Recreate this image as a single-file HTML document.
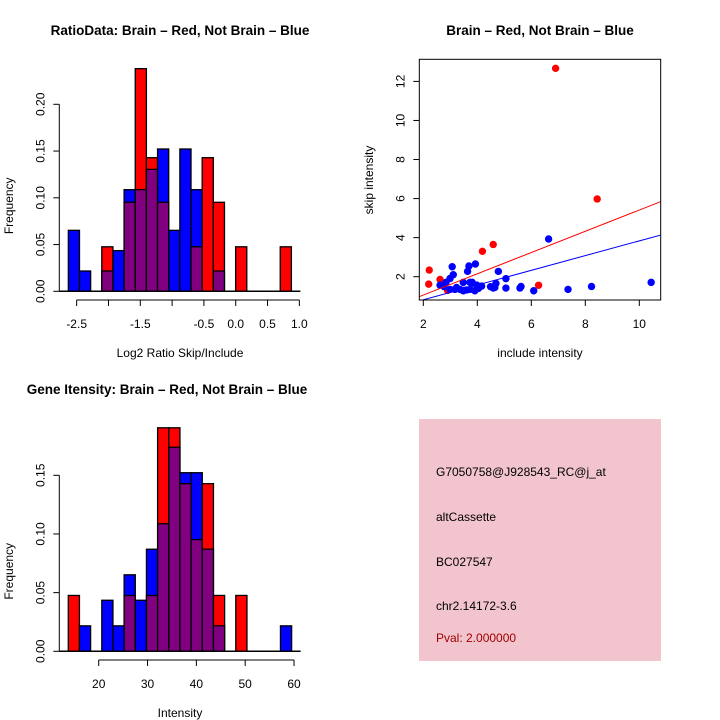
<!DOCTYPE html>
<html><head><meta charset="utf-8"><style>
body{margin:0;background:#fff}
svg{display:block;font-family:"Liberation Sans",sans-serif}
</style></head><body>
<svg id="c" width="720" height="720"></svg>
<script>
// Panel 1: log2 ratio histogram (frequencies per bin)
const ratioRed=[0,0,0,0.0476,0,0.0952,0.2381,0.1429,0.0952,0,0,0.0476,0.1429,0.0952,0,0.0476,0,0,0,0.0476];
const ratioBlue=[0.0652,0.0217,0,0.0217,0.0435,0.1087,0.1087,0.1304,0.1522,0.0652,0.1522,0.1087,0,0.0217,0,0,0,0,0,0];
const ratioBreakStart=-2.631, ratioBreakWidth=0.1753;
const ratioXTicks=[-2.5,-2,-1.5,-1,-0.5,0,0.5,1];
const ratioXLabels=["-2.5","","-1.5","","-0.5","0.0","0.5","1.0"];
const ratioYTicks=[0,0.05,0.1,0.15,0.2];
const ratioYLabels=["0.00","0.05","0.10","0.15","0.20"];
// Panel 2: scatter
const redX=[6.90,8.44,4.59,4.19,2.22,2.20,2.62,6.27,2.9,3.5,4.1];
const redY=[12.67,5.98,3.65,3.30,2.34,1.62,1.86,1.56,1.3,1.3,1.5];
const blueX=[6.64,10.44,8.23,7.36,6.09,5.62,5.58,5.06,5.06,4.78,4.69,4.59,4.49,4.65,3.93,3.69,3.64,3.07,3.11,2.99,2.84,2.62,2.77,3.23,3.48,3.73,3.81,3.98,4.04,3.36,3.6,3.91,2.99,3.17,4.16,3.73,3.48];
const blueY=[3.93,1.71,1.5,1.35,1.28,1.5,1.42,1.9,1.42,2.27,1.66,1.42,1.49,1.45,2.65,2.55,2.27,2.51,2.1,1.91,1.71,1.57,1.49,1.45,1.71,1.71,1.71,1.57,1.4,1.35,1.32,1.28,1.35,1.35,1.52,1.35,1.28];
const redFit=[-0.027,0.544], blueFit=[0.064,0.377];
const scXTicks=[2,4,6,8,10], scYTicks=[2,4,6,8,10,12];
// Panel 3: intensity histogram
const intRed=[0.0476,0,0,0,0,0.0476,0,0.0476,0.1905,0.1905,0.1429,0.0952,0.1429,0.0476,0,0.0476,0,0,0,0];
const intBlue=[0,0.0217,0,0.0435,0.0217,0.0652,0.0435,0.0870,0.1087,0.1739,0.1522,0.1522,0.0870,0.0217,0,0,0,0,0,0.0217];
const intBreakStart=13.77, intBreakWidth=2.287;
const intXTicks=[20,30,40,50,60];
const intYTicks=[0,0.05,0.1,0.15];
const intYLabels=["0.00","0.05","0.10","0.15"];

const svg=document.getElementById('c');
const NS='http://www.w3.org/2000/svg';
function mk(tag,attrs,parent){const e=document.createElementNS(NS,tag);for(const k in attrs)e.setAttribute(k,attrs[k]);(parent||svg).appendChild(e);return e;}
function txt(s,x,y,o,parent){const e=mk('text',Object.assign({x:x,y:y,'text-anchor':'middle','font-size':12},o||{}),parent);e.textContent=s;return e;}

function hist(name,red,blue,b0,bw,sx,sy,base,xTicks,xLabels,xAxisY,yTicks,yLabels,yAxisX,title,titleY,titleX,xlabel,xlabelY){
  const g=mk('g',{});
  
  
  for(let i=0;i<red.length;i++){
    const x0=sx(b0+i*bw), x1=sx(b0+(i+1)*bw);
    const r=red[i], b=blue[i];
    const hi=Math.max(r,b), lo=Math.min(r,b);
    if(hi>0){
      const rc=mk('rect',{x:x0,y:sy(hi),width:x1-x0,height:base-sy(hi),fill:r>=b?'#ff0000':'#0000ff',stroke:'#000','stroke-width':1.3},g);
      
      
    }
    if(lo>0){
      const pc=mk('rect',{x:x0,y:sy(lo),width:x1-x0,height:base-sy(lo),fill:'#800080',stroke:'#000','stroke-width':1.3},g);
      
      
    }
  }
  mk('line',{x1:yAxisX,x2:sx(b0+red.length*bw)+9,y1:base,y2:base,stroke:'#000','stroke-width':1.5},g);
  mk('line',{x1:yAxisX,x2:yAxisX,y1:sy(yTicks[yTicks.length-1]),y2:sy(0),stroke:'#000'},g);
  yTicks.forEach((t,i)=>{const y=sy(t);mk('line',{x1:yAxisX-6,x2:yAxisX,y1:y,y2:y,stroke:'#000'},g);
    const l=txt(yLabels[i],0,0,{transform:`translate(${yAxisX-15},${y}) rotate(-90)`},g);
    
    });
  mk('line',{x1:sx(xTicks[0]),x2:sx(xTicks[xTicks.length-1]),y1:xAxisY,y2:xAxisY,stroke:'#000'},g);
  xTicks.forEach((t,i)=>{const x=sx(t);mk('line',{x1:x,x2:x,y1:xAxisY,y2:xAxisY+6,stroke:'#000'},g);
    if(xLabels[i]){const l=txt(xLabels[i],x,xAxisY+28,{},g);
    
    }});
  const t=txt(title,titleX,titleY,{'font-size':13.5,'font-weight':'bold'},g);
  
  
  const xl=txt(xlabel,180,xlabelY,{},g);
  
  
  const yl=txt('Frequency',0,0,{transform:`translate(13,${(base+sy(yTicks[yTicks.length-1]))/2+8}) rotate(-90)`},g);
  
  
}

const p1x=v=>76.67+(v+2.5)*63.62, p1y=v=>291.3-v*935;
hist('ratio-histogram',ratioRed,ratioBlue,ratioBreakStart,ratioBreakWidth,p1x,p1y,291.3,ratioXTicks,ratioXLabels,300,ratioYTicks,ratioYLabels,59.3,'RatioData: Brain \u2013 Red, Not Brain \u2013 Blue',35,180,'Log2 Ratio Skip/Include',357);
const p3x=v=>98.7+(v-20)*4.883, p3y=v=>651.3-v*1173.3;
hist('intensity-histogram',intRed,intBlue,intBreakStart,intBreakWidth,p3x,p3y,651.3,intXTicks,intXTicks.map(String),660,intYTicks,intYLabels,59.3,'Gene Itensity: Brain \u2013 Red, Not Brain \u2013 Blue',394,167,'Intensity',717);

const sg=mk('g',{});


const L=419.3,R=660.7,T=59.3,B=300;
const scx=v=>423.3+(v-2)*27, scy=v=>276.7-(v-2)*19.53;
const cp=mk('clipPath',{id:'clp'},sg); mk('rect',{x:L,y:T,width:R-L,height:B-T},cp);
const pg=mk('g',{'clip-path':'url(#clp)'},sg);
redX.forEach((x,i)=>{const c=mk('circle',{cx:scx(x),cy:scy(redY[i]),r:3.7,fill:'#ff0000'},pg);
  
  });
blueX.forEach((x,i)=>{const c=mk('circle',{cx:scx(x),cy:scy(blueY[i]),r:3.7,fill:'#0000ff'},pg);
  
  });
[[redFit,'#ff0000','fit-line-red'],[blueFit,'#0000ff','fit-line-blue']].forEach(([f,col,n])=>{
  const xa=1.8,xb=11;const ln=mk('line',{x1:scx(xa),y1:scy(f[0]+f[1]*xa),x2:scx(xb),y2:scy(f[0]+f[1]*xb),stroke:col,'stroke-width':1},pg);
  
  });
mk('rect',{x:L,y:T,width:R-L,height:B-T,fill:'none',stroke:'#000'},sg);
scXTicks.forEach(t=>{const x=scx(t);mk('line',{x1:x,x2:x,y1:B,y2:B+6,stroke:'#000'},sg);txt(String(t),x,B+28,{},sg);});
scYTicks.forEach(t=>{const y=scy(t);mk('line',{x1:L-6,x2:L,y1:y,y2:y,stroke:'#000'},sg);txt(String(t),0,0,{transform:`translate(${L-15},${y}) rotate(-90)`},sg);});
const st=txt('Brain \u2013 Red, Not Brain \u2013 Blue',540,35,{'font-size':13.5,'font-weight':'bold'},sg);


const sxl=txt('include intensity',540,357,{},sg);


const syl=txt('skip intensity',0,0,{transform:'translate(373,180) rotate(-90)'},sg);


</script>
<svg style="position:absolute;left:419px;top:419px" width="242" height="242">
<rect width="242" height="242" fill="#f2c4ce"/>
<g font-family="Liberation Sans, sans-serif" font-size="12">
<text x="17" y="57">G7050758@J928543_RC@j_at</text>
<text x="17" y="102">altCassette</text>
<text x="17" y="147">BC027547</text>
<text x="17" y="191">chr2.14172-3.6</text>
<text x="17" y="223" fill="#a00000">Pval: 2.000000</text>
</g></svg>
</body></html>
